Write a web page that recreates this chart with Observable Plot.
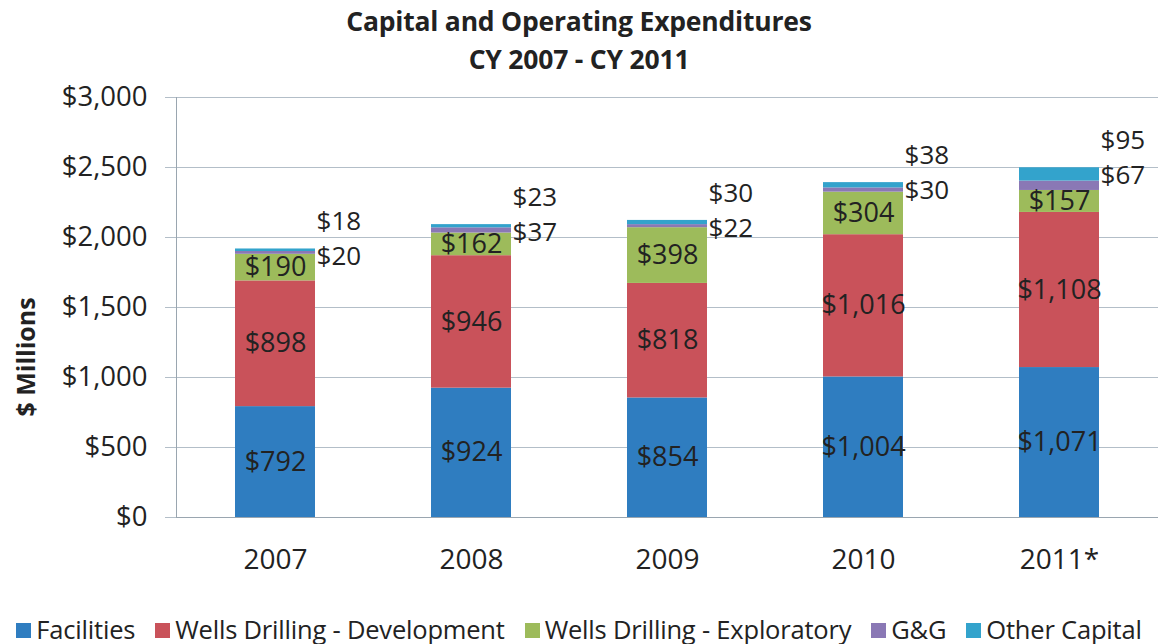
<!DOCTYPE html>
<html>
<head>
<meta charset="utf-8">
<script src="https://cdn.jsdelivr.net/npm/d3@7"></script>
<script src="https://cdn.jsdelivr.net/npm/@observablehq/plot@0.6"></script>
<style>
  html, body { margin: 0; padding: 0; background: #fff; }
  body { width: 1158px; height: 644px; overflow: hidden; font-family: "Open Sans", sans-serif; color: #222; }
  #title { height: 80px; text-align: center; font-weight: bold; font-size: 26.5px; line-height: 38px; padding-top: 2px; box-sizing: border-box; letter-spacing: -0.2px; }
  #chart { position: relative; height: 500px; }
  #ylabel { position: absolute; left: 25px; top: 277px; transform: translate(-50%, -50%) rotate(-90deg); font-weight: bold; font-size: 25px; white-space: nowrap; }
  #legend { display: flex; justify-content: center; align-items: center; gap: 20px; margin-top: 32px; font-size: 25.5px; white-space: nowrap; letter-spacing: -0.2px; }
  #legend span.sw { display: inline-block; width: 15px; height: 15px; margin-right: 5px; vertical-align: middle; position: relative; top: -2px; }
</style>
</head>
<body>
<div id="title">Capital and Operating Expenditures<br>CY 2007 - CY 2011</div>
<div id="chart"><div id="ylabel">$ Millions</div></div>
<div id="legend"></div>
<script>
const years = ["2007", "2008", "2009", "2010", "2011*"];
const series = ["Facilities", "Wells Drilling - Development", "Wells Drilling - Exploratory", "G&G", "Other Capital"];
const colors = ["#2f7dc0", "#c9525a", "#9dbb5b", "#8a78b5", "#33a3cc"];
const facilities = [792, 924, 854, 1004, 1071];
const wellsDev = [898, 946, 818, 1016, 1108];
const wellsExp = [190, 162, 398, 304, 157];
const gg = [20, 37, 22, 30, 67];
const otherCap = [18, 23, 30, 38, 95];
const yTicks = [0, 500, 1000, 1500, 2000, 2500, 3000];

const seriesValues = [facilities, wellsDev, wellsExp, gg, otherCap];
const data = [];
seriesValues.forEach((vals, si) => vals.forEach((v, yi) => data.push({year: years[yi], series: series[si], value: v})));
const totals = years.map((y, i) => ({year: y, total: seriesValues.reduce((s, a) => s + a[i], 0), gg: gg[i], other: otherCap[i]}));
const fmt = v => "$" + d3.format(",")(v);
const big = new Set(series.slice(0, 3));

const W = 1158;
const padIn = 0.592;
const bw = (W - 176) / years.length * (1 - padIn);

const plot = Plot.plot({
  width: W,
  height: 500,
  marginTop: 17,
  marginBottom: 63,
  marginLeft: 176,
  marginRight: 0,
  style: {fontFamily: "Open Sans, sans-serif", fontSize: "26px", color: "#222", background: "transparent", overflow: "visible"},
  x: {domain: years, paddingInner: padIn, paddingOuter: padIn / 2, label: null},
  y: {domain: [0, 3000], label: null},
  color: {domain: series, range: colors},
  marks: [
    Plot.gridY(yTicks, {stroke: "#b3bec8", strokeOpacity: 1, strokeWidth: 1.2}),
    Plot.axisY(yTicks, {tickFormat: fmt, tickSize: 11, tickPadding: 18, stroke: "#b3bec8", fontSize: 27.5, label: null}),
    Plot.axisX({tickSize: 0, tickPadding: 32, fontSize: 28, label: null}),
    Plot.barY(data, {x: "year", y: "value", fill: "series", order: series}),
    Plot.frame({anchor: "left", stroke: "#9aa6b0"}),
    Plot.ruleY([0], {stroke: "#9aa6b0", strokeWidth: 1.2}),
    Plot.text(data, Plot.stackY({x: "year", y: "value", z: "series", order: series, filter: d => big.has(d.series), text: d => fmt(d.value), fill: "#222", fontSize: 27})),
    Plot.text(totals, {x: "year", y: "total", text: d => fmt(d.gg), dx: bw / 2 + 1, dy: 8, textAnchor: "start", fill: "#222", fontSize: 26}),
    Plot.text(totals, {x: "year", y: "total", text: d => fmt(d.other), dx: bw / 2 + 1, dy: -27, textAnchor: "start", fill: "#222", fontSize: 26})
  ]
});
document.getElementById("chart").appendChild(plot);

const legend = document.getElementById("legend");
series.forEach((s, i) => {
  const item = document.createElement("span");
  item.innerHTML = `<span class="sw" style="background:${colors[i]}"></span>${s.replace("&", "&amp;")}`;
  legend.appendChild(item);
});
</script>
</body>
</html>
